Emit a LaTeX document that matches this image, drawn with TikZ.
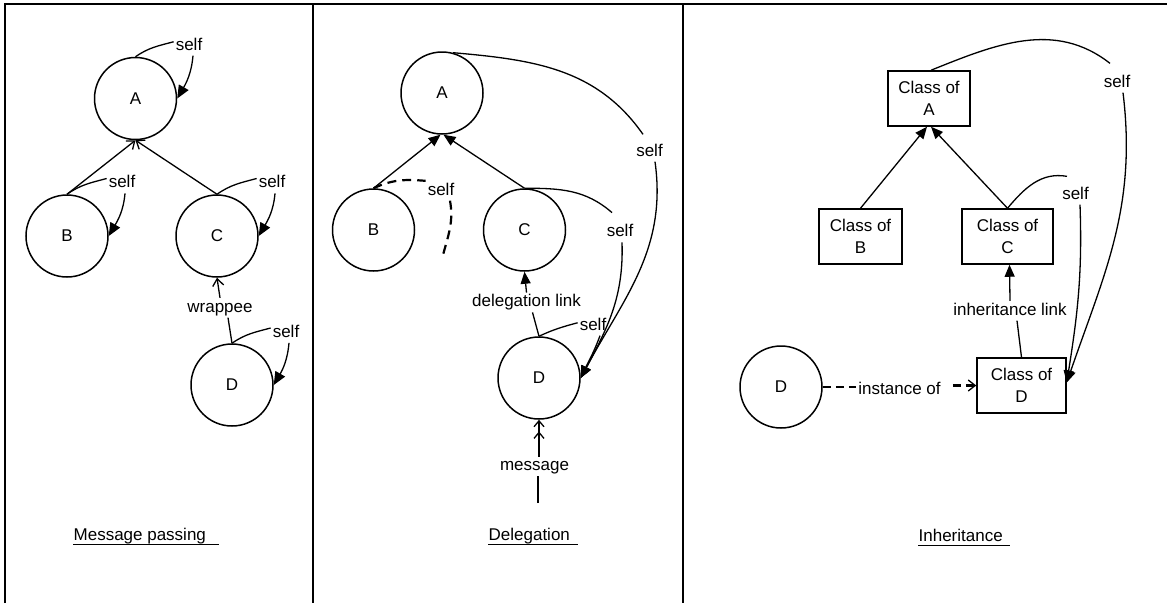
\documentclass[tikz,border=0pt]{standalone}
\usepackage{fontspec}
\setmainfont{Liberation Sans}
\usetikzlibrary{arrows.meta}
\begin{document}
\begin{tikzpicture}[x=1pt,y=1pt,
  font=\fontsize{17}{22}\selectfont,
  line width=1.3pt,
  obj/.style={circle,draw,line width=1.5pt,minimum size=82pt,inner sep=0pt},
  cls/.style={rectangle,draw,line width=1.5pt,minimum height=55pt,align=center,inner sep=0pt},
  lbl/.style={inner sep=1.5pt,text height=12pt,text depth=3.5pt},
  captext/.style={anchor=base west,inner sep=0pt},
  fillhead/.style={-{Triangle[length=12pt,width=10pt]}},
  bighead/.style={-{Triangle[length=13pt,width=11pt]}},
  openhead/.style={-{Straight Barb[length=7pt,width=11pt]}},
  dblhead/.style={-{Straight Barb[length=6pt,width=10pt,sep=4pt]Straight Barb[length=6pt,width=10pt]}},
  thickdash/.style={line width=2.2pt,dash pattern=on 9pt off 6pt},
  frameline/.style={line width=1.8pt}
]
\useasboundingbox (0,0) rectangle (1167,-603);

% panel frame
\draw[frameline] (5,-603) -- (5,-4) -- (1167,-4);
\draw[frameline] (313,-4) -- (313,-603);
\draw[frameline] (683,-4) -- (683,-603);

% ---------------- Message passing ----------------
\node[obj] (A1) at (135.5,-98.5) {A};
\node[obj] (B1) at (67,-236) {B};
\node[obj] (C1) at (217,-236) {C};
\node[obj] (D1) at (232,-385) {D};
\node[lbl] (sA1) at (189,-45.75) {self};
\node[lbl] (sB1) at (122,-183.5) {self};
\node[lbl] (sC1) at (272,-183.5) {self};
\node[lbl] (sD1) at (286,-333) {self};
\node[lbl] (wr1) at (220,-307.75) {wrappee};

\draw[openhead] (B1.north) -- (A1.south);
\draw[openhead] (C1.north) -- (A1.south);

\draw (A1.north) to[out=35,in=195] ([yshift=4pt]sA1.west);
\draw[bighead] ([xshift=4pt]sA1.south) to[out=-95,in=60] (A1.east);
\draw (B1.north) to[out=35,in=195] ([yshift=5pt]sB1.west);
\draw[bighead] ([xshift=3pt]sB1.south) to[out=-95,in=60] (B1.east);
\draw (C1.north) to[out=35,in=195] ([yshift=5pt]sC1.west);
\draw[bighead] ([xshift=3pt]sC1.south) to[out=-95,in=60] (C1.east);
\draw (D1.north) to[out=35,in=195] ([yshift=5pt]sD1.west);
\draw[bighead] ([xshift=3pt]sD1.south) to[out=-95,in=60] (D1.east);

\draw[openhead] (wr1.north) -- (C1.south);
\draw ([xshift=8pt]wr1.south) -- (D1.north);

\node[captext] (cap1) at (73,-540) {Message passing};
\draw ([yshift=-4.5pt]cap1.base west) -- ++(146,0);

% ---------------- Delegation ----------------
\node[obj] (A2) at (442,-93) {A};
\node[obj] (B2) at (373.5,-230) {B};
\node[obj] (C2) at (524.5,-230) {C};
\node[obj] (D2) at (539,-378) {D};
\node[lbl] (sB2) at (441,-190.75) {self};
\node[lbl] (sC2) at (620,-232.5) {self};
\node[lbl] (sA2) at (649.5,-151.75) {self};
\node[lbl] (sD2) at (593,-325.75) {self};
\node[lbl] (dl) at (526.5,-302.5) {delegation link};
\node[lbl] (msg) at (534.5,-466.5) {message};
\coordinate (bEnd) at (443,-255);
\coordinate (mEnd) at (538,-503);

\draw[fillhead] (B2.north) -- (A2.268);
\draw[fillhead] (C2.north) -- (A2.272);

\draw[thickdash] (B2.north) to[out=25,in=175] (sB2.north west);
\draw[thickdash] ([xshift=9pt]sB2.south) to[out=-80,in=75] (bEnd);

\draw (C2.north) to[out=0,in=139] ([shift={(-8pt,10pt)}]sC2.north);
\draw[fillhead] ([xshift=2pt]sC2.south) to[out=-88,in=62] (D2.east);

\draw (A2.75) to[out=-5,in=125] ([shift={(-6.5pt,7.5pt)}]sA2.north);
\draw[fillhead] ([xshift=5.5pt]sA2.south) to[out=-82,in=62] (D2.east);

\draw (D2.north) to[out=25,in=195] ([yshift=3pt]sD2.west);
\draw[fillhead] ([xshift=7pt]sD2.south) to[out=-110,in=65] (D2.east);

\draw[fillhead] (dl.north) -- (C2.south);
\draw (D2.north) -- ([xshift=6pt]dl.south);

\draw (mEnd) -- (msg.south -| mEnd);
\draw[dblhead] (msg.north -| D2.south) -- (D2.south);

\node[captext] (cap2) at (488,-540) {Delegation};
\draw ([yshift=-4.5pt]cap2.base west) -- ++(90,0);

% ---------------- Inheritance ----------------
\node[cls,minimum width=82pt] (cA) at (929,-98.5) {Class of\\A};
\node[cls,minimum width=83pt] (cB) at (860.5,-236.5) {Class of\\B};
\node[cls,minimum width=91pt] (cC) at (1007.5,-236.5) {Class of\\C};
\node[cls,minimum width=89pt] (cD) at (1021.5,-385.5) {Class of\\D};
\node[obj] (D3) at (781,-387) {D};
\node[lbl] (sA3) at (1117,-82.75) {self};
\node[lbl] (sC3) at (1075.5,-194.75) {self};
\node[lbl] (il) at (1010,-310.75) {inheritance link};
\node[lbl] (iof) at (899.5,-389.75) {instance of};

\draw[fillhead] (cB.north) -- ([xshift=-2pt]cA.south);
\draw[fillhead] (cC.north) -- ([xshift=2pt]cA.south);

\draw ([xshift=2pt]cA.north) to[out=22,in=142] ([shift={(-7pt,9.5pt)}]sA3.north);
\draw[fillhead] ([xshift=6pt]sA3.south) to[out=-83,in=71] ([yshift=3pt]cD.east);

\draw (cC.north) to[out=50,in=170] ([shift={(-8.5pt,8.5pt)}]sC3.north);
\draw[fillhead] ([xshift=4.5pt]sC3.south) to[out=-88,in=81] ([yshift=3pt]cD.east);

\draw[fillhead] (il.north) -- ([xshift=2pt]cC.south);
\draw (cD.north) -- ([xshift=7pt]il.south);

\draw[thickdash,dash pattern=on 8pt off 5pt] (D3.east) -- (D3.east -| iof.west);
\draw[thickdash,dash pattern=on 8pt off 5pt,-{Straight Barb[length=7pt,width=11pt,line width=1.3pt]}]
  ([xshift=10pt]iof.east |- cD.west) -- (cD.west);

\node[captext] (cap3) at (918,-541) {Inheritance};
\draw ([yshift=-4.5pt]cap3.base west) -- ++(92,0);
\end{tikzpicture}
\end{document}
